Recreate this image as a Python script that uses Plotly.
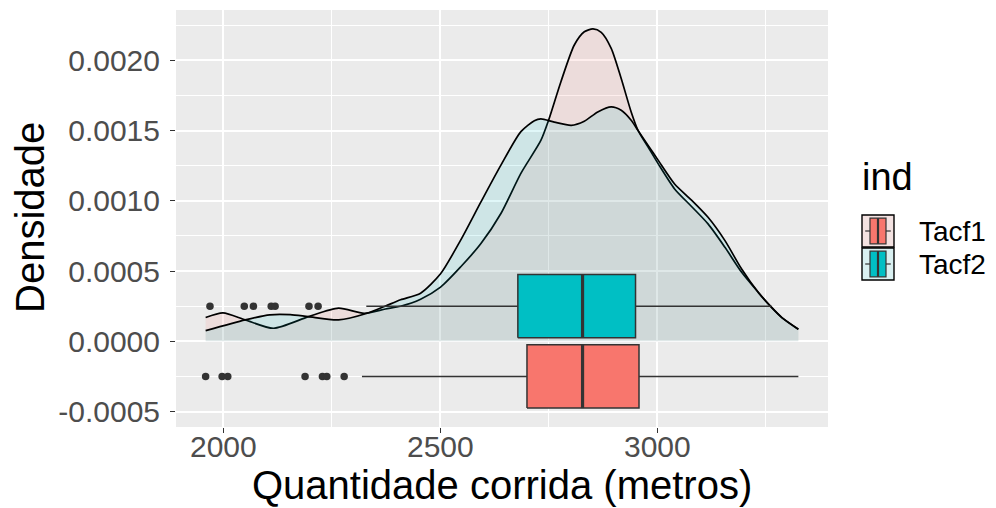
import plotly.graph_objects as go

# ---- data -------------------------------------------------------------
groups = ["Tacf1", "Tacf2"]

# kernel density curves (metros, densidade)
tacf1_x = [1960, 2000, 2051, 2116, 2197, 2266, 2325, 2374, 2409, 2455, 2501,
           2547, 2594, 2640, 2686, 2732, 2749, 2778, 2809, 2832, 2852, 2871,
           2894, 2917, 2940, 2956, 2979, 3002, 3040, 3079, 3117, 3156, 3194,
           3233, 3260, 3287, 3325]
tacf1_y = [0.000170, 0.000203, 0.000153, 0.000093, 0.000176, 0.000236,
           0.000200, 0.000230, 0.000250, 0.000300, 0.000386, 0.000529,
           0.000696, 0.000910, 0.001196, 0.001430, 0.001567, 0.001847,
           0.002110, 0.002204, 0.002224, 0.002200, 0.002086, 0.001871,
           0.001633, 0.001500, 0.001383, 0.001265, 0.001085, 0.000960,
           0.000836, 0.000669, 0.000493, 0.000347, 0.000252, 0.000169,
           0.000086]

tacf2_x = [1960, 2051, 2108, 2155, 2196, 2266, 2332, 2373, 2409, 2455, 2501,
           2547, 2594, 2640, 2686, 2717, 2732, 2763, 2802, 2832, 2863, 2894,
           2917, 2940, 2956, 2979, 3002, 3040, 3079, 3117, 3156, 3194, 3233,
           3260, 3287, 3325]
tacf2_y = [0.000076, 0.000153, 0.000189, 0.000190, 0.000176, 0.000153,
           0.000200, 0.000250, 0.000296, 0.000343, 0.000481, 0.000719,
           0.000993, 0.001255, 0.001493, 0.001571, 0.001584, 0.001561,
           0.001538, 0.001567, 0.001633, 0.001669, 0.001645, 0.001574,
           0.001500, 0.001395, 0.001290, 0.001120, 0.001005, 0.000883,
           0.000717, 0.000517, 0.000347, 0.000252, 0.000169, 0.000086]

# boxplot summaries (metros), drawn at these density positions
box_pos = [-0.00025, 0.00025]
box_q1 = [2700, 2679]
box_median = [2828, 2828]
box_q3 = [2958, 2950]
box_lower = [2320, 2330]
box_upper = [3325, 3263]

tacf1_outliers = [1960, 1998, 2011, 2189, 2229, 2239, 2279]
tacf2_outliers = [1970, 2049, 2070, 2111, 2120, 2198, 2219]

x_tickvals = [2000, 2500, 3000]
x_ticktext = ["2000", "2500", "3000"]
x_minor = [2250, 2750, 3250]
y_tickvals = [-0.0005, 0.0, 0.0005, 0.0010, 0.0015, 0.0020]
y_ticktext = ["-0.0005", "0.0000", "0.0005", "0.0010", "0.0015", "0.0020"]
y_minor = [-0.00025, 0.00025, 0.00075, 0.00125, 0.00175, 0.00225]

# ---- style --------------------------------------------------------------
fills = ["#F8766D", "#00BFC4"]
density_fill = ["rgba(248,118,109,0.12)", "rgba(0,191,196,0.12)"]
key_fill = ["#F3E2E1", "#D9F0F1"]
BOX_H = 0.00045
FONT = "Liberation Sans, Arial, sans-serif"
INK = "#333333"

W, H = 996, 508
L, R, T, B = 176, 828, 10, 427   # panel edges in px


def px(x):
    return (x - L) / (R - L)


def py(y):
    return (B - y) / (B - T)


fig = go.Figure()

# densities
for xs, ys, fc in [(tacf1_x, tacf1_y, density_fill[0]),
                   (tacf2_x, tacf2_y, density_fill[1])]:
    fig.add_trace(go.Scatter(
        x=xs, y=ys, mode="lines", fill="tozeroy", fillcolor=fc,
        line=dict(color="black", width=1.7, shape="spline", smoothing=0.7),
        showlegend=False, hoverinfo="skip"))

# boxplots (scatter layer so they sit above the density fills)
for i in range(2):
    pos, lo_y, hi_y = box_pos[i], box_pos[i] - BOX_H / 2, box_pos[i] + BOX_H / 2
    fig.add_trace(go.Scatter(
        x=[box_lower[i], box_q1[i], None, box_q3[i], box_upper[i]],
        y=[pos, pos, None, pos, pos], mode="lines",
        line=dict(color=INK, width=1.5), showlegend=False, hoverinfo="skip"))
    fig.add_trace(go.Scatter(
        x=[box_q1[i], box_q3[i], box_q3[i], box_q1[i], box_q1[i]],
        y=[lo_y, lo_y, hi_y, hi_y, lo_y], mode="lines", fill="toself",
        fillcolor=fills[i], line=dict(color=INK, width=1.5),
        showlegend=False, name=groups[i]))
    fig.add_trace(go.Scatter(
        x=[box_median[i], box_median[i]], y=[lo_y, hi_y],
        mode="lines", line=dict(color=INK, width=3.2),
        showlegend=False, hoverinfo="skip"))

for outs, pos in [(tacf1_outliers, box_pos[0]), (tacf2_outliers, box_pos[1])]:
    fig.add_trace(go.Scatter(
        x=outs, y=[pos] * len(outs), mode="markers",
        marker=dict(color=INK, size=7.5, line=dict(width=0)),
        showlegend=False, hoverinfo="skip"))

# axis ranges with 5% expansion
all_x = tacf1_x + tacf2_x + tacf1_outliers + tacf2_outliers + box_upper
xmin, xmax = min(all_x), max(all_x)
xpad = 0.05 * (xmax - xmin)
ymin = min(min(box_pos) - BOX_H / 2, 0)
ymax = max(tacf1_y + tacf2_y + [p + BOX_H / 2 for p in box_pos])
ypad = 0.05 * (ymax - ymin)

axis_common = dict(
    showgrid=True, gridcolor="white", gridwidth=1.5, zeroline=False,
    showline=False, ticks="outside", ticklen=5, tickwidth=1.4,
    tickcolor=INK, tickfont=dict(family=FONT, size=30, color="#4D4D4D"),
)

fig.update_layout(
    width=W, height=H,
    margin=dict(l=L, r=W - R, t=T, b=H - B, pad=0),
    paper_bgcolor="white", plot_bgcolor="#EBEBEB", showlegend=False,
    xaxis=dict(range=[xmin - xpad, xmax + xpad], tickmode="array",
               tickvals=x_tickvals, showticklabels=False,
               minor=dict(tickvals=x_minor, showgrid=True, gridcolor="white",
                          gridwidth=0.8, ticks=""),
               **axis_common),
    yaxis=dict(range=[ymin - ypad, ymax + ypad], tickmode="array",
               tickvals=y_tickvals, ticktext=y_ticktext,
               minor=dict(tickvals=y_minor, showgrid=True, gridcolor="white",
                          gridwidth=0.8, ticks=""),
               ticklabelstandoff=4, **axis_common),
)

annotations = [
    dict(text="Quantidade corrida (metros)", x=px(502), y=py(485),
         xref="paper", yref="paper", showarrow=False,
         font=dict(family=FONT, size=40, color="black"),
         xanchor="center", yanchor="middle"),
    dict(text="Densidade", x=px(30), y=py(218), xref="paper", yref="paper",
         showarrow=False, textangle=-90,
         font=dict(family=FONT, size=40, color="black"),
         xanchor="center", yanchor="middle"),
    dict(text="ind", x=px(860), y=py(177), xref="paper", yref="paper",
         showarrow=False, font=dict(family=FONT, size=38, color="black"),
         xanchor="left", yanchor="middle"),
]

# x tick labels
for v, s in zip(x_tickvals, x_ticktext):
    annotations.append(dict(text=s, x=v, xref="x", y=py(447), yref="paper",
                            showarrow=False, xanchor="center",
                            yanchor="middle",
                            font=dict(family=FONT, size=30, color="#4D4D4D")))

# legend keys: density swatch with a small horizontal boxplot glyph
shapes = []
key_l, key_r = 862, 894
key_tops = [215, 248]
key_h = 32
for i in range(2):
    t = key_tops[i]
    b = t + key_h
    mid = (t + b) / 2
    shapes.append(dict(type="rect", xref="paper", yref="paper",
                       x0=px(key_l), x1=px(key_r), y0=py(b), y1=py(t),
                       fillcolor=key_fill[i],
                       line=dict(color="black", width=1.4)))
    kw = key_r - key_l
    bx0, bx1 = key_l + 0.25 * kw, key_l + 0.75 * kw
    by0, by1 = t + 0.1 * key_h, b - 0.1 * key_h
    for wx0, wx1 in [(key_l + 0.1 * kw, bx0), (bx1, key_r - 0.1 * kw)]:
        shapes.append(dict(type="line", xref="paper", yref="paper",
                           x0=px(wx0), x1=px(wx1), y0=py(mid), y1=py(mid),
                           line=dict(color=INK, width=1.2)))
    shapes.append(dict(type="rect", xref="paper", yref="paper",
                       x0=px(bx0), x1=px(bx1), y0=py(by1), y1=py(by0),
                       fillcolor=fills[i],
                       line=dict(color=INK, width=1.2)))
    cx = (bx0 + bx1) / 2
    shapes.append(dict(type="line", xref="paper", yref="paper",
                       x0=px(cx), x1=px(cx), y0=py(by1), y1=py(by0),
                       line=dict(color=INK, width=2.2)))
    annotations.append(dict(text=groups[i], x=px(917), y=py(mid),
                            xref="paper", yref="paper", showarrow=False,
                            font=dict(family=FONT, size=28, color="black"),
                            xanchor="left", yanchor="middle"))

fig.update_layout(annotations=annotations, shapes=shapes)

fig.write_html("out.html")
